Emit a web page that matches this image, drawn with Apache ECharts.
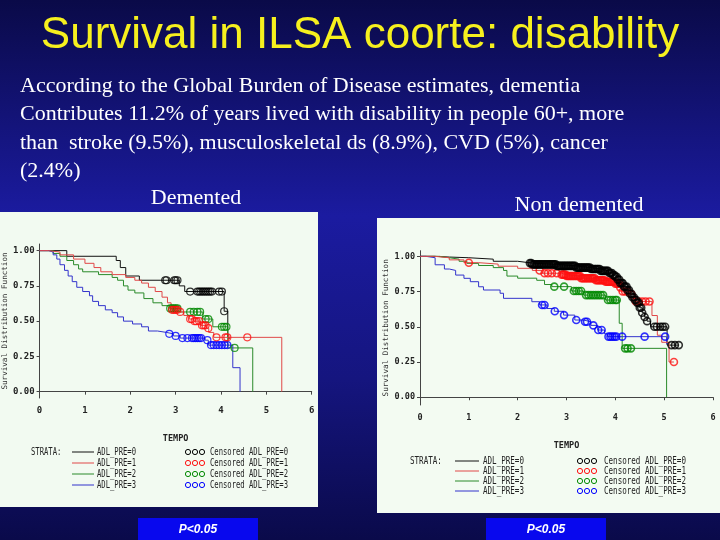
<!DOCTYPE html>
<html><head><meta charset="utf-8">
<script src="https://cdn.jsdelivr.net/npm/echarts@6/dist/echarts.min.js"></script>
<style>html,body{margin:0;padding:0;background:#0c0c50}#c{width:720px;height:540px}</style>
</head><body><div id="c"></div>
<script>
// ---------- data ----------
const strata = ['ADL_PRE=0', 'ADL_PRE=1', 'ADL_PRE=2', 'ADL_PRE=3'];
const xTicks = [0, 1, 2, 3, 4, 5, 6];
const yTicks = [0, 0.25, 0.5, 0.75, 1];
const titleText = 'Survival in ILSA coorte: disability';
const bodyLines = [
  'According to the Global Burden of Disease estimates, dementia',
  'Contributes 11.2% of years lived with disability in people 60+, more',
  'than  stroke (9.5%), musculoskeletal ds (8.9%), CVD (5%), cancer',
  '(2.4%)'
];
const panelTitles = ['Demented', 'Non demented'];
const pLabels = ['P<0.05', 'P<0.05'];

// Demented: Kaplan-Meier steps [time, survival]
const dem0 = [[0,1],[0.6,0.96],[1.69,0.93],[1.78,0.88],[1.9,0.82],[2.2,0.79],[3.08,0.75],[3.2,0.71],[4.07,0.57],[4.15,0.38],[4.2,0.38]];
const dem1 = [[0,1],[0.2,0.99],[0.45,0.97],[0.75,0.94],[1.0,0.91],[1.2,0.88],[1.35,0.85],[1.6,0.83],[1.9,0.81],[2.1,0.79],[2.25,0.77],[2.4,0.74],[2.55,0.71],[2.7,0.67],[2.82,0.63],[2.9,0.58],[3.05,0.565],[3.18,0.54],[3.3,0.515],[3.4,0.5],[3.55,0.47],[3.68,0.45],[3.73,0.42],[3.84,0.385],[5.34,0]];
const dem2 = [[0,1],[0.3,0.98],[0.45,0.96],[0.6,0.93],[0.75,0.9],[0.86,0.87],[0.95,0.85],[1.3,0.83],[1.6,0.81],[1.72,0.79],[1.85,0.75],[1.95,0.72],[2.1,0.7],[2.3,0.66],[2.5,0.63],[2.7,0.61],[2.87,0.59],[3.1,0.565],[3.6,0.515],[3.82,0.46],[4.15,0.31],[4.7,0]];
const dem3 = [[0,1],[0.2,0.99],[0.3,0.97],[0.38,0.94],[0.45,0.9],[0.55,0.86],[0.63,0.82],[0.72,0.78],[0.82,0.74],[0.95,0.71],[1.1,0.68],[1.17,0.64],[1.3,0.61],[1.45,0.58],[1.6,0.56],[1.72,0.53],[1.85,0.5],[2.05,0.48],[2.25,0.46],[2.4,0.43],[2.6,0.42],[2.8,0.41],[2.95,0.395],[3.1,0.38],[3.65,0.365],[3.72,0.33],[4.26,0.17],[4.42,0]];
// Demented: censoring times
const demCens0 = [2.77,2.8,2.97,3.0,3.04,3.32,3.48,3.52,3.56,3.6,3.64,3.68,3.72,3.76,3.8,3.96,4.02,4.07];
const demCens1 = [2.92,2.96,3.0,3.04,3.1,3.32,3.36,3.42,3.46,3.52,3.58,3.62,3.66,3.72,3.9,4.1,4.14,4.58];
const demCens2 = [2.88,2.92,2.96,3.0,3.04,3.32,3.4,3.48,3.54,3.66,3.72,4.02,4.07,4.12,4.3];
const demCens3 = [2.86,3.0,3.15,3.26,3.36,3.4,3.44,3.48,3.52,3.56,3.7,3.78,3.84,3.9,3.96,4.02,4.08,4.14];

// Non demented: Kaplan-Meier steps
const non0 = [[0,1],[0.3,0.995],[0.6,0.99],[1.0,0.98],[1.5,0.965],[2.0,0.952],[2.3,0.943],[2.8,0.932],[3.2,0.92],[3.5,0.91],[3.7,0.897],[3.86,0.882],[3.95,0.867],[4.0,0.855],[4.05,0.835],[4.1,0.81],[4.17,0.785],[4.24,0.76],[4.3,0.735],[4.34,0.71],[4.4,0.69],[4.44,0.67],[4.5,0.635],[4.55,0.6],[4.6,0.57],[4.65,0.54],[4.72,0.5],[5.06,0.37],[5.3,0.37]];
const non1 = [[0,1],[0.3,0.99],[0.6,0.975],[0.9,0.955],[1.2,0.945],[1.6,0.93],[2.0,0.915],[2.3,0.9],[2.5,0.88],[2.9,0.87],[3.0,0.86],[3.3,0.845],[3.6,0.83],[3.8,0.82],[4.0,0.805],[4.1,0.78],[4.14,0.75],[4.27,0.73],[4.41,0.68],[4.75,0.58],[4.86,0.44],[4.95,0.39],[5.1,0.25],[5.2,0.25]];
const non2 = [[0,1],[0.4,0.99],[0.6,0.98],[0.8,0.965],[0.96,0.95],[1.2,0.935],[1.5,0.92],[1.71,0.9],[1.78,0.86],[2.0,0.845],[2.39,0.83],[2.55,0.8],[2.7,0.785],[3.1,0.754],[3.35,0.725],[3.8,0.69],[4.08,0.525],[4.14,0.347],[5.05,0]];
const non3 = [[0,1],[0.12,0.99],[0.31,0.94],[0.5,0.91],[0.6,0.9],[0.73,0.867],[0.9,0.844],[1.03,0.82],[1.2,0.784],[1.3,0.761],[1.64,0.738],[1.71,0.702],[2.29,0.678],[2.45,0.655],[2.6,0.63],[2.75,0.61],[2.94,0.583],[3.17,0.548],[3.35,0.536],[3.5,0.51],[3.64,0.477],[3.78,0.45],[3.84,0.43],[5.05,0.38],[5.08,0.38]];
// Non demented: censoring times
const nonCens0 = [2.25,2.28,2.3,2.33,2.35,2.38,2.4,2.43,2.45,2.48,2.5,2.53,2.55,2.58,2.6,2.63,2.65,2.68,2.7,2.73,2.75,2.78,2.8,2.83,2.85,2.88,2.9,2.93,2.95,2.98,3.0,3.03,3.05,3.08,3.1,3.13,3.15,3.18,3.2,3.23,3.25,3.28,3.3,3.33,3.35,3.38,3.4,3.43,3.45,3.48,3.5,3.53,3.55,3.58,3.6,3.63,3.65,3.68,3.7,3.73,3.75,3.78,3.8,3.83,3.85,3.88,3.9,3.93,3.95,3.98,4.0,4.03,4.05,4.08,4.1,4.13,4.15,4.18,4.2,4.23,4.25,4.28,4.3,4.33,4.35,4.38,4.4,4.43,4.45,4.48,4.5,4.53,4.55,4.6,4.65,4.8,4.85,4.92,4.97,5.02,5.15,5.22,5.3];
const nonCens1 = [1.0,2.45,2.55,2.62,2.7,2.8,2.9,2.93,2.95,2.98,3.0,3.03,3.05,3.08,3.1,3.13,3.15,3.18,3.2,3.23,3.25,3.28,3.3,3.33,3.35,3.38,3.4,3.43,3.45,3.48,3.5,3.53,3.55,3.58,3.6,3.63,3.65,3.68,3.7,3.73,3.75,3.78,3.8,3.83,3.85,3.88,3.9,3.93,3.95,3.98,4.0,4.03,4.05,4.08,4.1,4.15,4.2,4.25,4.33,4.42,4.48,4.55,4.62,4.7,5.2];
const nonCens2 = [2.75,2.95,3.15,3.2,3.25,3.3,3.4,3.45,3.5,3.55,3.6,3.65,3.7,3.75,3.85,3.9,3.95,4.0,4.03,4.2,4.25,4.32];
const nonCens3 = [2.5,2.55,2.76,2.95,3.2,3.38,3.42,3.55,3.65,3.72,3.86,3.9,3.94,3.98,4.02,4.14,4.6,5.02];

// ---------- styling ----------
const lineColors = ['#111111', '#e04848', '#2a8a2a', '#3333cc'];
const censColors = ['#000000', '#ff1010', '#008800', '#0000ff'];
const panels = [
  { curves: [dem0, dem1, dem2, dem3], cens: [demCens0, demCens1, demCens2, demCens3], mk: 7, bw: 1.2 },
  { curves: [non0, non1, non2, non3], cens: [nonCens0, nonCens1, nonCens2, nonCens3], mk: 7, bw: 1.6 }
];

function survAt(curve, t) {
  let s = curve[0][1];
  for (const p of curve) { if (p[0] <= t + 1e-9) s = p[1]; else break; }
  return s;
}

const gridDefs = [
  { left: 39.3, top: 244, width: 272.4, height: 154, ymin: -0.045, ymax: 1.047, gap: 27, lab: 9 },
  { left: 420, top: 250.7, width: 293, height: 154.3, ymin: -0.055, ymax: 1.04, gap: 30, lab: 8.5 }
];
const mono = '"DejaVu Sans Mono", monospace';

const grid = gridDefs.map(g => ({ left: g.left, top: g.top, width: g.width, height: g.height,
  show: true, borderColor: '#555', borderWidth: 1, containLabel: false }));
const xAxis = gridDefs.map((g, i) => ({
  type: 'value', gridIndex: i, min: 0, max: 6, interval: 1,
  axisLine: { show: true, lineStyle: { color: '#444', width: 1 } },
  axisTick: { show: true, length: 3, lineStyle: { color: '#444' } },
  axisLabel: { fontFamily: mono, fontSize: g.lab, fontWeight: 'bold', color: '#222', margin: 8,
    customValues: xTicks },
  splitLine: { show: false },
  name: 'TEMPO', nameLocation: 'middle', nameGap: 36,
  nameTextStyle: { fontFamily: mono, fontSize: 8.5, fontWeight: 'bold', color: '#222' }
}));
const yAxis = gridDefs.map((g, i) => ({
  type: 'value', gridIndex: i, min: g.ymin, max: g.ymax,
  axisLine: { show: true, lineStyle: { color: '#444', width: 1 } },
  axisTick: { show: true, length: 3, customValues: yTicks, lineStyle: { color: '#444' } },
  axisLabel: { fontFamily: mono, fontSize: g.lab, fontWeight: 'bold', color: '#222', margin: 5,
    customValues: yTicks, formatter: v => v.toFixed(2) },
  splitLine: { show: false },
  name: 'Survival Distribution Function', nameLocation: 'middle', nameRotate: 90, nameGap: g.gap,
  nameTextStyle: { fontFamily: mono, fontSize: 7.6, color: '#333' }
}));

const series = [];
const lineOrder = [0, 2, 3, 1];
const censOrder = [3, 2, 1, 0];
panels.forEach((p, pi) => {
  lineOrder.forEach(k => {
    series.push({ type: 'line', name: strata[k], xAxisIndex: pi, yAxisIndex: pi, data: p.curves[k],
      step: 'end', symbol: 'none', lineStyle: { color: lineColors[k], width: 1 }, z: 3, silent: true });
  });
  censOrder.forEach(k => {
    series.push({ type: 'scatter', name: 'Censored ' + strata[k], xAxisIndex: pi, yAxisIndex: pi,
      data: p.cens[k].map(t => [t, survAt(p.curves[k], t)]),
      symbol: 'circle', symbolSize: p.mk,
      itemStyle: { color: 'rgba(0,0,0,0)', borderColor: censColors[k], borderWidth: p.bw }, z: 4, silent: true });
  });
});

// ---------- graphics (slide) ----------
const graphic = [];
graphic.push({ type: 'rect', shape: { x: 0, y: 212, width: 318, height: 295 }, style: { fill: '#f2faf1' }, z: 0 });
graphic.push({ type: 'rect', shape: { x: 377, y: 218, width: 343, height: 295 }, style: { fill: '#f3fbf2' }, z: 0 });
graphic.push({ type: 'text', z: 10, style: { text: titleText, x: 360, y: 36, align: 'center', verticalAlign: 'middle',
  font: '44px "Liberation Sans", Arial, sans-serif', fill: '#f6f01e' } });
const bodyY = [86, 114, 143, 171];
bodyLines.forEach((t, i) => graphic.push({ type: 'text', z: 10, style: { text: t, x: 20, y: bodyY[i],
  align: 'left', verticalAlign: 'middle', font: '22px "Liberation Serif", "Times New Roman", serif', fill: '#ffffff' } }));
graphic.push({ type: 'text', z: 10, style: { text: panelTitles[0], x: 196, y: 198, align: 'center', verticalAlign: 'middle',
  font: '22px "Liberation Serif", serif', fill: '#ffffff' } });
graphic.push({ type: 'text', z: 10, style: { text: panelTitles[1], x: 579, y: 205, align: 'center', verticalAlign: 'middle',
  font: '22px "Liberation Serif", serif', fill: '#ffffff' } });
// P boxes
[[138, 198], [486, 546]].forEach((b, i) => {
  graphic.push({ type: 'rect', z: 10, shape: { x: b[0], y: 518, width: 120, height: 24 }, style: { fill: '#0808ee' } });
  graphic.push({ type: 'text', z: 11, style: { text: pLabels[i], x: b[1], y: 530, align: 'center', verticalAlign: 'middle',
    font: 'italic bold 12px "Liberation Sans", Arial, sans-serif', fill: '#ffffff' } });
});
// SAS-style legends
const legDefs = [
  { sx: 31, rows: [452, 463, 474, 485], l1: 72, l2: 94, lab: 97, cx: [188, 195, 202], clab: 210, fs: 10, sc: 0.72 },
  { sx: 410, rows: [461, 471, 481, 491], l1: 455, l2: 479, lab: 483, cx: [580, 587, 594], clab: 604, fs: 10.5, sc: 0.72 }
];
legDefs.forEach(d => {
  graphic.push({ type: 'text', z: 10, x: d.sx, y: d.rows[0], scaleX: d.sc,
    style: { text: 'STRATA:', x: 0, y: 0, align: 'left', verticalAlign: 'middle', font: d.fs + 'px ' + mono, fill: '#222' } });
  strata.forEach((s, k) => {
    const y = d.rows[k];
    graphic.push({ type: 'line', z: 10, shape: { x1: d.l1, y1: y, x2: d.l2, y2: y }, style: { stroke: lineColors[k], lineWidth: 1 } });
    graphic.push({ type: 'text', z: 10, x: d.lab, y: y, scaleX: d.sc,
      style: { text: s, x: 0, y: 0, align: 'left', verticalAlign: 'middle', font: d.fs + 'px ' + mono, fill: '#222' } });
    d.cx.forEach(cx => graphic.push({ type: 'circle', z: 10, shape: { cx: cx, cy: y, r: 2.6 },
      style: { fill: 'none', stroke: censColors[k], lineWidth: 1 } }));
    graphic.push({ type: 'text', z: 10, x: d.clab, y: y, scaleX: d.sc,
      style: { text: 'Censored ' + s, x: 0, y: 0, align: 'left', verticalAlign: 'middle', font: d.fs + 'px ' + mono, fill: '#222' } });
  });
});

const chart = echarts.init(document.getElementById('c'), null, { renderer: 'canvas' });
chart.setOption({
  animation: false,
  backgroundColor: new echarts.graphic.LinearGradient(0, 0, 0, 1, [
    { offset: 0, color: '#0a0a48' }, { offset: 0.4, color: '#1b1ba0' },
    { offset: 0.7, color: '#15157f' }, { offset: 1, color: '#0a0a4a' }
  ]),
  grid, xAxis, yAxis, series, graphic
});
</script></body></html>
